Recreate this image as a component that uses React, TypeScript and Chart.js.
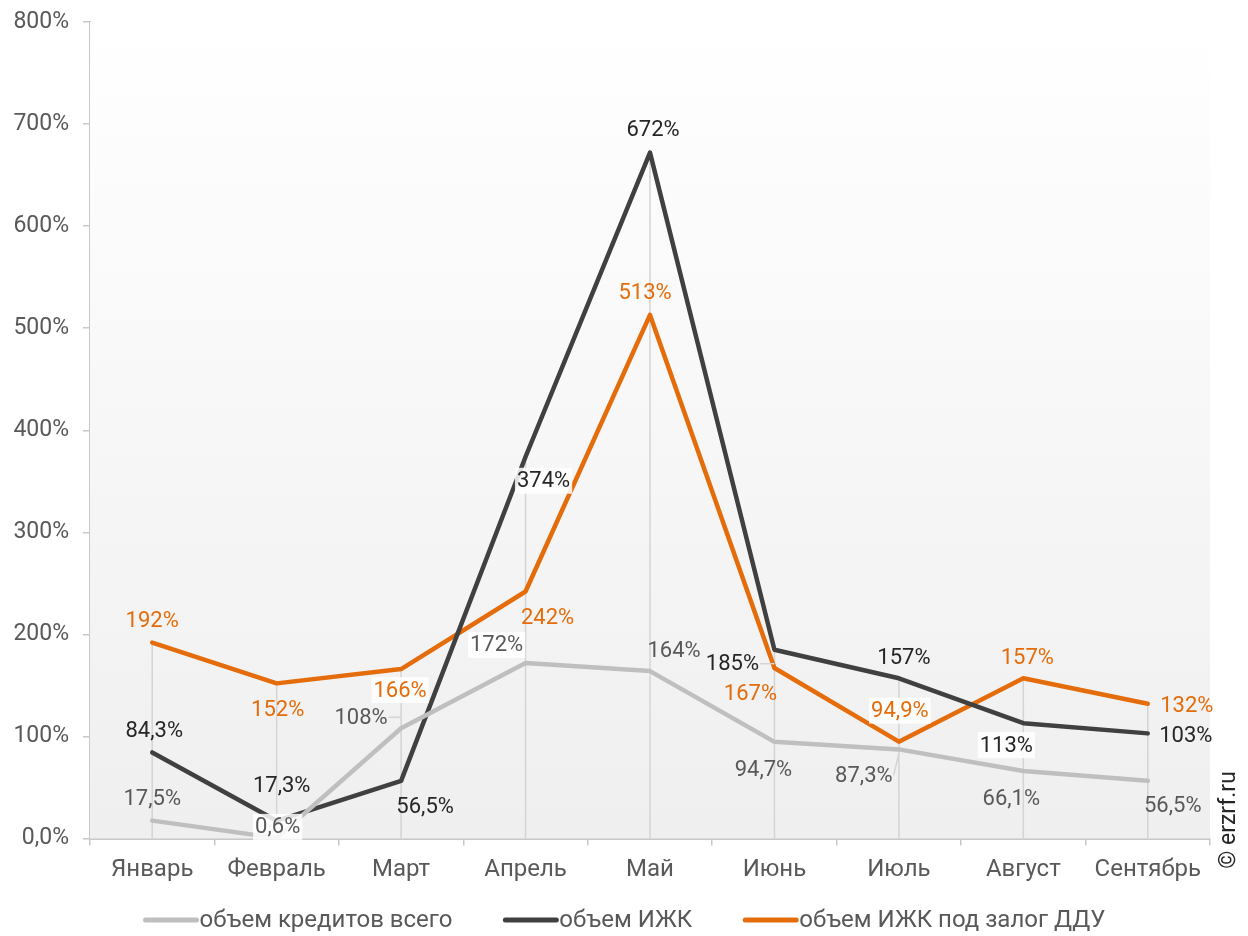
import React, { useEffect, useRef } from "react";
import { Chart, registerables } from "chart.js";

Chart.register(...registerables);

const months = ["Январь", "Февраль", "Март", "Апрель", "Май", "Июнь", "Июль", "Август", "Сентябрь"];
const totalCredits = [17.5, 0.6, 108, 172, 164, 94.7, 87.3, 66.1, 56.5];
const izhk = [84.3, 17.3, 56.5, 374, 672, 185, 157, 113, 103];
const izhkDdu = [192, 152, 166, 242, 513, 167, 94.9, 157, 132];
const seriesNames = ["объем кредитов всего", "объем ИЖК", "объем ИЖК под залог ДДУ"];
const yTicks = [0, 100, 200, 300, 400, 500, 600, 700, 800];

// label placement (layout only): [dx, dy, whiteBox, leader]
const totalLabelPos: [number, number, boolean, boolean][] = [
  [0, -22, false, false], [1, -11, true, false], [-40, -11, false, true], [-29, -18, true, false],
  [24, -21, false, false], [-11, 28, false, false], [-35, 26, false, true], [-12, 27, false, false], [25, 25, false, false],
];
const izhkLabelPos: [number, number, boolean, boolean][] = [
  [2, -22, false, false], [5, -35, false, false], [24, 26, false, false], [18, 24, true, false],
  [3, -23, false, false], [-42, 14, false, true], [5, -21, false, false], [-17, 22, true, false], [38, 2, false, false],
];
const dduLabelPos: [number, number, boolean, boolean][] = [
  [0, -22, false, false], [1, 26, false, false], [-1, 21, true, false], [22, 26, false, false],
  [-5, -22, false, false], [-24, 25, false, false], [1, -31, true, false], [4, -21, false, false], [39, 2, false, false],
];

const COLORS = ["#bfbfbf", "#404040", "#e46c0a"];
const LABEL_COLORS = ["#595959", "#262626", "#e46c0a"];
const FONT = "Roboto, 'Noto Sans', sans-serif";

function fmt(v: number): string {
  if (v === 0) return "0,0%";
  if (v >= 100) return Math.round(v) + "%";
  return v.toFixed(1).replace(".", ",") + "%";
}

const customPlugin = {
  id: "custom",
  beforeDatasetsDraw(chart: any) {
    const { ctx, chartArea } = chart;
    const g = ctx.createLinearGradient(0, chartArea.top, 0, chartArea.bottom);
    g.addColorStop(0, "#ffffff");
    g.addColorStop(1, "#efefef");
    ctx.save();
    ctx.fillStyle = g;
    ctx.fillRect(chartArea.left, chartArea.top, chartArea.right - chartArea.left, chartArea.bottom - chartArea.top);
    // drop lines
    const xs = chart.scales.x;
    const ys = chart.scales.y;
    ctx.strokeStyle = "#d4d4d4";
    ctx.lineWidth = 1.5;
    months.forEach((_, i) => {
      const m = Math.max(totalCredits[i], izhk[i], izhkDdu[i]);
      const x = xs.getPixelForValue(i);
      ctx.beginPath();
      ctx.moveTo(x, ys.getPixelForValue(m));
      ctx.lineTo(x, chartArea.bottom);
      ctx.stroke();
    });
    ctx.restore();
  },
  afterDatasetsDraw(chart: any) {
    const { ctx } = chart;
    const xs = chart.scales.x;
    const ys = chart.scales.y;
    const all = [totalCredits, izhk, izhkDdu];
    const pos = [totalLabelPos, izhkLabelPos, dduLabelPos];
    ctx.save();
    ctx.font = "22px " + FONT;
    ctx.textAlign = "center";
    ctx.textBaseline = "middle";
    all.forEach((arr, s) => {
      arr.forEach((v, i) => {
        const px = xs.getPixelForValue(i);
        const py = ys.getPixelForValue(v);
        const [dx, dy, box, leader] = pos[s][i];
        const lx = px + dx;
        const ly = py + dy;
        const t = fmt(v);
        const w = ctx.measureText(t).width;
        if (leader) {
          ctx.strokeStyle = "#d4d4d4";
          ctx.lineWidth = 1.5;
          ctx.beginPath();
          const ex = dx < 0 ? lx + w / 2 + 1 : lx - w / 2 - 1;
          ctx.moveTo(ex, ly);
          ctx.lineTo(px, dy > 0 && Math.abs(dy) > 20 ? py + 4 : ly);
          ctx.stroke();
        }
        if (box) {
          ctx.fillStyle = "rgba(255,255,255,0.85)";
          ctx.fillRect(lx - w / 2 - 2, ly - 13, w + 4, 26);
        }
        ctx.fillStyle = LABEL_COLORS[s];
        ctx.fillText(t, lx, ly + 1);
      });
    });
    ctx.restore();
  },
  afterDraw(chart: any) {
    const { ctx, width } = chart;
    ctx.save();
    // legend
    ctx.font = "24px " + FONT;
    ctx.textBaseline = "middle";
    ctx.textAlign = "left";
    const lineW = 57;
    const gap = 50;
    const widths = seriesNames.map((n) => lineW + ctx.measureText(n).width);
    const total = widths.reduce((a, b) => a + b, 0) + gap * (seriesNames.length - 1);
    let x = width / 2 - total / 2;
    const y = 920;
    seriesNames.forEach((n, i) => {
      ctx.strokeStyle = COLORS[i];
      ctx.lineWidth = 5;
      ctx.lineCap = "round";
      ctx.beginPath();
      ctx.moveTo(x + 3, y);
      ctx.lineTo(x + lineW - 3, y);
      ctx.stroke();
      ctx.fillStyle = "#595959";
      ctx.fillText(n, x + lineW, y + 1);
      x += widths[i] + gap;
    });
    // watermark
    ctx.translate(1229, 820);
    ctx.rotate(-Math.PI / 2);
    ctx.textAlign = "center";
    ctx.fillStyle = "#262626";
    ctx.font = "23px " + FONT;
    ctx.fillText("© erzrf.ru", 0, 0);
    ctx.restore();
  },
};

export default function App() {
  const ref = useRef<HTMLCanvasElement | null>(null);
  useEffect(() => {
    if (!ref.current) return;
    const chart = new Chart(ref.current, {
      type: "line",
      data: {
        labels: months,
        datasets: [totalCredits, izhk, izhkDdu].map((d, i) => ({
          label: seriesNames[i],
          data: d,
          borderColor: COLORS[i],
          backgroundColor: COLORS[i],
          borderWidth: 4.5,
          pointRadius: 0,
          tension: 0,
          borderJoinStyle: "round" as const,
          borderCapStyle: "round" as const,
        })),
      },
      options: {
        animation: false,
        responsive: false,
        layout: { padding: { left: 0, top: 22, right: 38, bottom: 0 } },
        plugins: { legend: { display: false }, tooltip: { enabled: false } },
        scales: {
          x: {
            offset: true,
            grid: { display: true, offset: true, drawOnChartArea: false, color: "#c8c8c8", tickLength: 7, lineWidth: 1.5 },
            border: { display: true, color: "#c8c8c8", width: 2 },
            ticks: { color: "#595959", font: { family: FONT, size: 24 }, padding: 10, maxRotation: 0 },
            afterFit: (s: any) => { s.height = 97.5; s.paddingLeft = 0; s.paddingRight = 0; },
          },
          y: {
            min: 0,
            max: 800,
            afterBuildTicks: (s: any) => { s.ticks = yTicks.map((v) => ({ value: v })); },
            grid: { display: true, drawOnChartArea: false, color: "#c8c8c8", tickLength: 7, lineWidth: 1.5 },
            border: { display: true, color: "#c8c8c8", width: 2 },
            ticks: {
              color: "#595959",
              font: { family: FONT, size: 23 },
              padding: 14,
              callback: (v: any) => fmt(Number(v)),
            },
            afterFit: (s: any) => { s.width = 90; s.paddingTop = 0; s.paddingBottom = 0; },
          },
        },
      },
      plugins: [customPlugin],
    });
    return () => chart.destroy();
  }, []);
  return (
    <div style={{ position: "absolute", left: 0, top: 0, width: 1248, height: 936, background: "#fff" }}>
      <canvas ref={ref} width={1248} height={936} />
    </div>
  );
}
